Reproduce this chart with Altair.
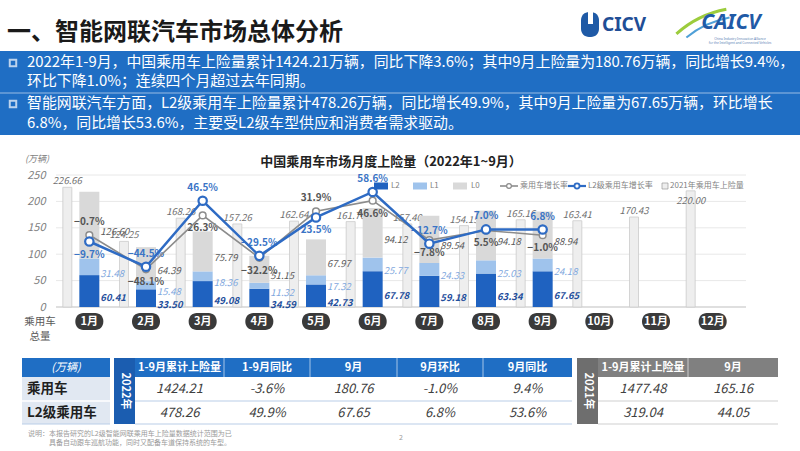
import altair as alt
import pandas as pd

# ---------------- data ----------------
months = list(range(1, 13))
month_names = [f"{m}月" for m in months]
sales_2021 = [226.66, 124.25, 168.26, 157.26, 162.64, 161.70, 157.40, 154.15, 165.16, 163.41, 170.43, 220.00]
l2_2022 = [60.41, 33.50, 49.08, 34.59, 42.73, 67.78, 59.18, 63.34, 67.65]
l1_2022 = [31.48, 15.48, 18.36, 11.32, 17.32, 25.77, 24.33, 25.03, 24.18]
l0_2022 = [126.60, 64.39, 75.79, 51.15, 67.97, 94.12, 89.54, 94.18, 88.94]
mom_total = [-0.7, -48.1, 26.3, -32.2, 31.9, 46.6, -7.8, 5.5, -1.0]
mom_l2 = [-9.7, -44.5, 46.5, -29.5, 23.5, 58.6, -12.7, 7.0, 6.8]
y_ticks = [0, 50, 100, 150, 200, 250]

table_rows = ["乘用车", "L2级乘用车"]
cols_2022 = ["1-9月累计上险量", "1-9月同比", "9月", "9月环比", "9月同比"]
vals_2022 = [["1424.21", "-3.6%", "180.76", "-1.0%", "9.4%"],
             ["478.26", "49.9%", "67.65", "6.8%", "53.6%"]]
cols_2021 = ["1-9月累计上险量", "9月"]
vals_2021 = [["1477.48", "165.16"], ["319.04", "44.05"]]

bullet_lines = [
    "2022年1-9月，中国乘用车上险量累计1424.21万辆，同比下降3.6%；其中9月上险量为180.76万辆，同比增长9.4%，",
    "环比下降1.0%；连续四个月超过去年同期。",
    "智能网联汽车方面，L2级乘用车上险量累计478.26万辆，同比增长49.9%，其中9月上险量为67.65万辆，环比增长",
    "6.8%，同比增长53.6%，主要受L2级车型供应和消费者需求驱动。",
]

# label placement tweaks
total_label_above = [1, 5]      # grey growth labels drawn above the point
l2_label_below = [1, 5]         # blue growth labels drawn below the point
label_inside_2021 = [12]        # 2021 value label tucked under the bar top (legend sits above)

# ---------------- styling ----------------
FONT = "Noto Sans CJK SC"
BLUE_DARK = "#1f62c0"
BLUE_LIGHT = "#9fc3ec"
GREY_L0 = "#d9d9d9"
BOX_BLUE = "#1f6ec4"

X = alt.Scale(domain=[0.5, 12.5], range=[56, 746], nice=False, zero=False)
YV = alt.Scale(domain=[0, 250], range=[307, 175], nice=False, zero=False)
YP = alt.Scale(domain=[-100, 82], range=[307, 175], nice=False, zero=False)

# ---------------- tables for the chart ----------------
stack_rows = []
for i, m in enumerate(months[:9]):
    base = 0.0
    for level, series in (("L2", l2_2022), ("L1", l1_2022), ("L0", l0_2022)):
        v = series[i]
        stack_rows.append(dict(month=m, level=level, v=v, y0=base, y1=base + v, mid=base + v / 2))
        base += v
df_stack = pd.DataFrame(stack_rows)

df_2021 = pd.DataFrame({"month": months, "v": sales_2021, "name": month_names,
                        "inside": [m in label_inside_2021 for m in months]})
df_total = pd.DataFrame({"month": months[:9], "g": mom_total,
                         "pos": ["above" if m in total_label_above else "below" for m in months[:9]]})
df_l2 = pd.DataFrame({"month": months[:9], "g": mom_l2,
                      "pos": ["below" if m in l2_label_below else "above" for m in months[:9]]})
df_ticks = pd.DataFrame({"t": y_ticks})

xm = alt.X("month:Q", scale=X, axis=None)


def one():
    return alt.Chart(pd.DataFrame({"k": [0]}))


def text(x, y, s, **kw):
    kw.setdefault("font", FONT)
    return one().mark_text(**kw).encode(x=alt.value(x), y=alt.value(y), text=alt.value(s))


def box(x1, y1, x2, y2, **kw):
    return one().mark_rect(**kw).encode(x=alt.value(x1), x2=alt.value(x2),
                                        y=alt.value(y1), y2=alt.value(y2))


def hline(x1, x2, y, **kw):
    return one().mark_rule(**kw).encode(x=alt.value(x1), x2=alt.value(x2), y=alt.value(y))


layers = []

# ---------------- page header ----------------
layers.append(text(7, 33, "一、智能网联汽车市场总体分析", fontSize=24, fontWeight="bold",
                   align="left", baseline="middle", color="#1a1a1a"))
# CICV mark
layers.append(box(581, 12, 599, 37, color="#1f5aa6", cornerRadius=8))
layers.append(box(588, 10, 593, 24, color="white"))
layers.append(text(602, 25, "CICV", fontSize=19, fontWeight="bold", align="left",
                   baseline="middle", color="#1f4e96", font="Noto Sans"))
# CAICV mark
layers.append(one().mark_arc(innerRadius=101, outerRadius=104, theta=5.55, theta2=6.1, color="#9ccc3c")
              .encode(x=alt.value(745), y=alt.value(110)))
layers.append(one().mark_arc(innerRadius=95, outerRadius=97, theta=5.6, theta2=6.1, color="#4fa0d8")
              .encode(x=alt.value(747), y=alt.value(112)))
layers.append(text(731, 23, "CAICV", fontSize=21, fontWeight="bold", fontStyle="italic",
                   align="center", baseline="middle", color="#1f5aa6", font="Noto Sans"))
layers.append(text(740, 39, "China Industry Innovation Alliance", fontSize=3.2,
                   align="center", baseline="middle", color="#5a7fb5", font="Noto Sans"))
layers.append(text(740, 43, "for the Intelligent and Connected Vehicles", fontSize=3.2,
                   align="center", baseline="middle", color="#5a7fb5", font="Noto Sans"))

# blue summary box
layers.append(box(0, 51, 800, 135, color=BOX_BLUE))
layers.append(hline(0, 800, 93, color="white", opacity=0.55, strokeWidth=1))
for by in (63, 104):
    layers.append(one().mark_square(size=42, filled=False, color="white", strokeWidth=2)
                  .encode(x=alt.value(13), y=alt.value(by)))
for s, ly in zip(bullet_lines, (63, 82, 104, 124)):
    layers.append(text(27, ly, s, fontSize=14.9, align="left", baseline="middle", color="white"))

# ---------------- chart ----------------
layers.append(text(391, 162, "中国乘用车市场月度上险量（2022年1~9月）", fontSize=13, fontWeight="bold",
                   align="center", baseline="middle", color="#222222"))
layers.append(text(37, 159, "(万辆)", fontSize=9, fontStyle="italic", align="center",
                   baseline="middle", color="#7f7f7f"))

# gridlines
layers.append(alt.Chart(df_ticks).transform_filter("datum.t > 0").mark_rule(color="#e8e8e8", strokeWidth=1)
              .encode(y=alt.Y("t:Q", scale=YV, axis=None), x=alt.value(56), x2=alt.value(746)))
layers.append(alt.Chart(df_ticks).transform_filter("datum.t == 0").mark_rule(color="#bfbfbf", strokeWidth=1)
              .encode(y=alt.Y("t:Q", scale=YV, axis=None), x=alt.value(56), x2=alt.value(746)))

# 2021 bars (with the value axis)
layers.append(alt.Chart(df_2021).mark_bar(orient="vertical", size=9, xOffset=-22, fill="#eeeeee",
                                          stroke="#cccccc", strokeWidth=0.8)
              .encode(x=xm,
                      y=alt.Y("v:Q", scale=YV,
                              axis=alt.Axis(values=y_ticks, offset=-47, grid=False, domain=False,
                                            ticks=False, labelPadding=2, labelFontStyle="italic",
                                            labelFontSize=11, labelColor="#7f7f7f", labelFont=FONT,
                                            title=None))))
layers.append(alt.Chart(df_2021).transform_filter("!datum.inside")
              .mark_text(xOffset=-22, dy=-1, baseline="bottom", fontSize=9.5,
                         fontStyle="italic", color="#6f6f6f", font=FONT)
              .encode(x=xm, y=alt.Y("v:Q", scale=YV, axis=None), text=alt.Text("v:Q", format=".2f")))
layers.append(alt.Chart(df_2021).transform_filter("datum.inside")
              .mark_text(xOffset=-22, dy=5, baseline="top", fontSize=9.5,
                         fontStyle="italic", color="#6f6f6f", font=FONT)
              .encode(x=xm, y=alt.Y("v:Q", scale=YV, axis=None), text=alt.Text("v:Q", format=".2f")))

# 2022 stacked bars
level_color = alt.Scale(domain=["L2", "L1", "L0"], range=[BLUE_DARK, BLUE_LIGHT, GREY_L0])
layers.append(alt.Chart(df_stack).mark_bar(orient="vertical", size=20)
              .encode(x=xm, y=alt.Y("y0:Q", scale=YV, axis=None), y2="y1:Q",
                      color=alt.Color("level:N", scale=level_color, legend=None)))
label_color = alt.Scale(domain=["L2", "L1", "L0"], range=["#1f4e9c", "#7fa8de", "#5a5a5a"])
layers.append(alt.Chart(df_stack).transform_filter("datum.level == 'L2'")
              .mark_text(xOffset=11, dy=7, align="left", baseline="middle", fontSize=9.5,
                         fontStyle="italic", fontWeight="bold", font=FONT)
              .encode(x=xm, y=alt.Y("mid:Q", scale=YV, axis=None), text=alt.Text("v:Q", format=".2f"),
                      color=alt.Color("level:N", scale=label_color, legend=None)))
layers.append(alt.Chart(df_stack).transform_filter("datum.level != 'L2'")
              .mark_text(xOffset=11, dy=7, align="left", baseline="middle", fontSize=9.5,
                         fontStyle="italic", font=FONT)
              .encode(x=xm, y=alt.Y("mid:Q", scale=YV, axis=None), text=alt.Text("v:Q", format=".2f"),
                      color=alt.Color("level:N", scale=label_color, legend=None)))

# month-on-month growth labels
for df, col in ((df_total, "#555555"), (df_l2, "#3a74c6")):
    for pos, dy in (("above", -13), ("below", 13)):
        layers.append(alt.Chart(df).transform_filter(f"datum.pos == '{pos}'")
                      .transform_calculate(lbl="format(datum.g, '.1f') + '%'")
                      .mark_text(dy=dy, baseline="middle", fontSize=10, fontWeight="bold",
                                 color=col, font=FONT)
                      .encode(x=xm, y=alt.Y("g:Q", scale=YP, axis=None), text="lbl:N"))

# growth lines
layers.append(alt.Chart(df_total).mark_line(color="#8c8c8c", strokeWidth=1.6)
              .encode(x=xm, y=alt.Y("g:Q", scale=YP, axis=None)))
layers.append(alt.Chart(df_total).mark_circle(size=45, fill="white", stroke="#8c8c8c",
                                              strokeWidth=1.5, opacity=1)
              .encode(x=xm, y=alt.Y("g:Q", scale=YP, axis=None)))
layers.append(alt.Chart(df_l2).mark_line(color="#2e6bc4", strokeWidth=2.5)
              .encode(x=xm, y=alt.Y("g:Q", scale=YP, axis=None)))
layers.append(alt.Chart(df_l2).mark_circle(size=70, fill="white", stroke="#2e6bc4",
                                           strokeWidth=2.2, opacity=1)
              .encode(x=xm, y=alt.Y("g:Q", scale=YP, axis=None)))

# month pills on the category axis
layers.append(alt.Chart(df_2021).mark_bar(orient="vertical", size=28, cornerRadius=8, color="#3a3a3a")
              .encode(x=xm, y=alt.value(313), y2=alt.value(330)))
layers.append(alt.Chart(df_2021).mark_text(fontSize=11, fontWeight="bold", color="white",
                                           baseline="middle", font=FONT)
              .encode(x=xm, y=alt.value(321.5), text="name:N"))
layers.append(text(40, 322, "乘用车", fontSize=10.5, align="center", baseline="middle", color="#595959"))
layers.append(text(40, 337, "总量", fontSize=10.5, align="center", baseline="middle", color="#595959"))

# legend
leg_y = 186
LEG = dict(fontSize=8, align="left", baseline="middle", color="#7f7f7f")
layers.append(box(374, leg_y - 3.5, 388, leg_y + 3.5, color=BLUE_DARK))
layers.append(text(391, leg_y, "L2", **LEG))
layers.append(box(413, leg_y - 3.5, 427, leg_y + 3.5, color=BLUE_LIGHT))
layers.append(text(430, leg_y, "L1", **LEG))
layers.append(box(453, leg_y - 3.5, 467, leg_y + 3.5, color=GREY_L0))
layers.append(text(471, leg_y, "L0", **LEG))
layers.append(hline(500, 518, leg_y, color="#8c8c8c", strokeWidth=1.6))
layers.append(one().mark_circle(size=22, fill="white", stroke="#8c8c8c", strokeWidth=1.3, opacity=1)
              .encode(x=alt.value(509), y=alt.value(leg_y)))
layers.append(text(520, leg_y, "乘用车增长率", **LEG))
layers.append(hline(568, 586, leg_y, color="#2e6bc4", strokeWidth=2.2))
layers.append(one().mark_circle(size=26, fill="white", stroke="#2e6bc4", strokeWidth=1.8, opacity=1)
              .encode(x=alt.value(577), y=alt.value(leg_y)))
layers.append(text(588, leg_y, "L2级乘用车增长率", **LEG))
layers.append(box(662, leg_y - 3, 668, leg_y + 3, fill="#eeeeee", stroke="#9a9a9a", strokeWidth=0.7))
layers.append(text(670, leg_y, "2021年乘用车上险量", **LEG))

# ---------------- summary tables ----------------
t_top, t_head, t_r1, t_bot = 358, 377, 401, 424
row_mid = [(t_head + t_r1) / 2, (t_r1 + t_bot) / 2]

# 2022 table
layers.append(box(22, t_top, 110, t_head, color=BOX_BLUE))
layers.append(text(66, (t_top + t_head) / 2, "(万辆)", fontSize=11, fontStyle="italic",
                   align="center", baseline="middle", color="white"))
layers.append(box(22, t_head, 110, t_bot, color="#e1e8f2"))
for r, name in enumerate(table_rows):
    layers.append(text(27, row_mid[r], name, fontSize=13.5, fontWeight="bold", align="left",
                       baseline="middle", color="#1f1f1f"))
layers.append(box(114, t_top, 135, t_bot, color="#1b5db0"))
layers.append(text(124.5, (t_top + t_bot) / 2, "2022年", fontSize=11, fontWeight="bold", angle=90,
                   align="center", baseline="middle", color="white"))
edges_2022 = [135, 224, 310, 397, 483, 572]
layers.append(box(135, t_top, 572, t_head, color=BOX_BLUE))
for c, head in enumerate(cols_2022):
    cx = (edges_2022[c] + edges_2022[c + 1]) / 2
    if c > 0:
        layers.append(one().mark_rule(color="white", opacity=0.6)
                      .encode(x=alt.value(edges_2022[c]), y=alt.value(t_top), y2=alt.value(t_head)))
    layers.append(text(cx, (t_top + t_head) / 2, head, fontSize=11, fontWeight="bold",
                       align="center", baseline="middle", color="white"))
    for r in range(2):
        layers.append(text(cx, row_mid[r], vals_2022[r][c], fontSize=13, fontStyle="italic",
                           align="center", baseline="middle", color="#404040"))
layers.append(hline(22, 110, t_r1, color="white", strokeWidth=1.5))
layers.append(hline(135, 572, t_r1, color="#b9cde8", strokeWidth=1.2))
layers.append(hline(22, 110, t_bot, color="#b9cde8", strokeWidth=1.2))
layers.append(hline(135, 572, t_bot, color="#b9cde8", strokeWidth=1.2))

# 2021 table
layers.append(box(577, t_top, 598, t_bot, color="#6e6e6e"))
layers.append(text(587.5, (t_top + t_bot) / 2, "2021年", fontSize=11, fontWeight="bold", angle=90,
                   align="center", baseline="middle", color="white"))
edges_2021 = [598, 688, 778]
layers.append(box(598, t_top, 778, t_head, color="#808080"))
for c, head in enumerate(cols_2021):
    cx = (edges_2021[c] + edges_2021[c + 1]) / 2
    if c > 0:
        layers.append(one().mark_rule(color="white", opacity=0.6)
                      .encode(x=alt.value(edges_2021[c]), y=alt.value(t_top), y2=alt.value(t_head)))
    layers.append(text(cx, (t_top + t_head) / 2, head, fontSize=11, fontWeight="bold",
                       align="center", baseline="middle", color="white"))
    for r in range(2):
        layers.append(text(cx, row_mid[r], vals_2021[r][c], fontSize=13, fontStyle="italic",
                           align="center", baseline="middle", color="#404040"))
layers.append(hline(598, 778, t_r1, color="#cfcfcf", strokeWidth=1.2))
layers.append(hline(598, 778, t_bot, color="#cfcfcf", strokeWidth=1.2))

# footnote and page number
layers.append(text(28, 434, "说明：", fontSize=7, align="left", baseline="middle", color="#9a9a9a"))
layers.append(text(49, 434, "本报告研究的L2级智能网联乘用车上险量数据统计范围为已", fontSize=7,
                   align="left", baseline="middle", color="#9a9a9a"))
layers.append(text(49, 443, "具备自动跟车巡航功能，同时又配备车道保持系统的车型。", fontSize=7,
                   align="left", baseline="middle", color="#9a9a9a"))
layers.append(text(401, 438, "2", fontSize=7, align="center", baseline="middle", color="#9a9a9a"))

chart = (
    alt.layer(*layers)
    .resolve_scale(y="independent", color="independent")
    .properties(width=800, height=451, padding=0, background="white",
                autosize=alt.AutoSizeParams(type="none"))
    .configure_view(stroke=None)
)

chart.save("out.html", embed_options={"renderer": "svg", "actions": False})
